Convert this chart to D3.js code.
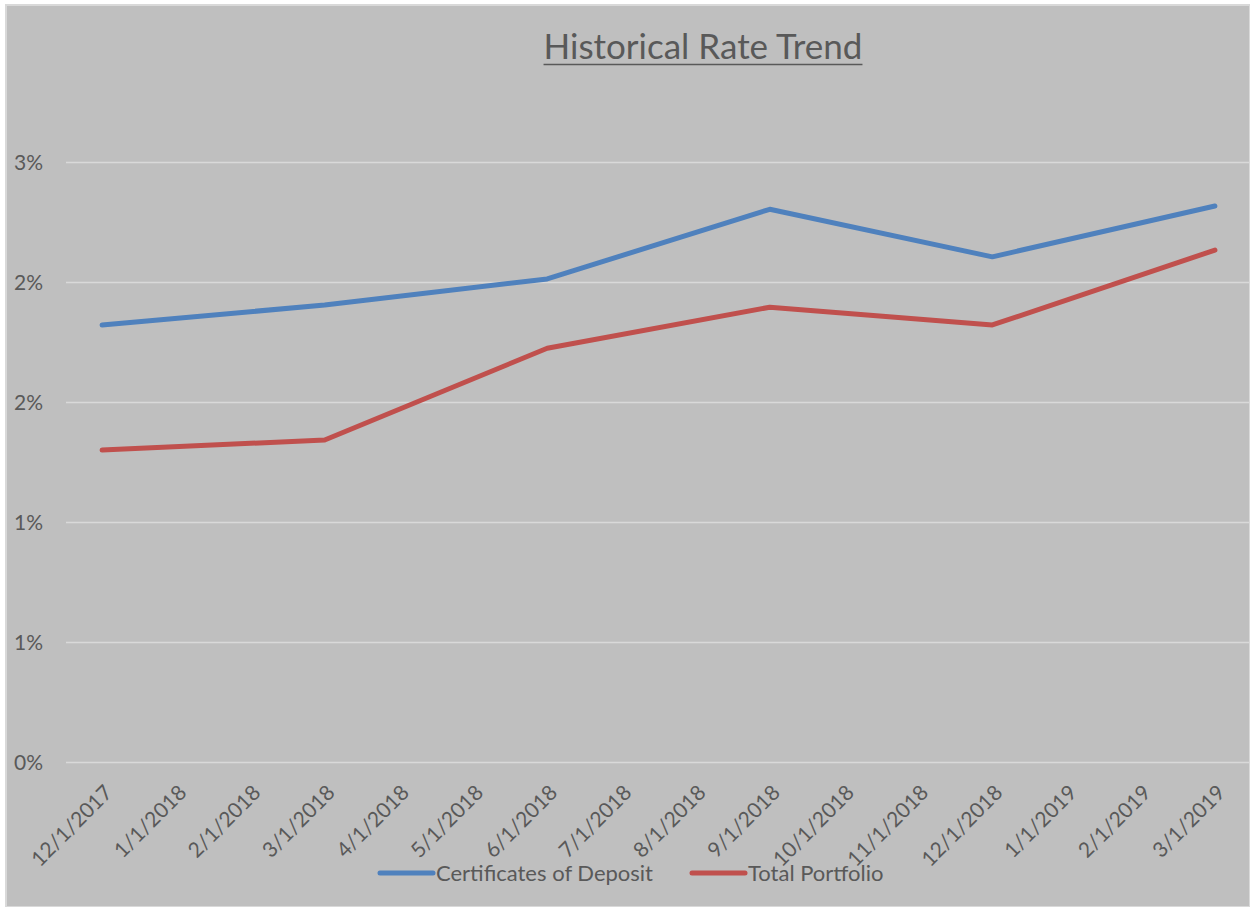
<!DOCTYPE html>
<html><head><meta charset="utf-8">
<script src="https://cdn.jsdelivr.net/npm/d3@7"></script>
<style>
html,body{margin:0;padding:0;background:#fff;}
svg{display:block;}
text{font-family:Lato, "Liberation Sans", sans-serif;}
</style></head>
<body>
<script>
const categories = ["12/1/2017","1/1/2018","2/1/2018","3/1/2018","4/1/2018","5/1/2018","6/1/2018","7/1/2018","8/1/2018","9/1/2018","10/1/2018","11/1/2018","12/1/2018","1/1/2019","2/1/2019","3/1/2019"];
const seriesNames = ["Certificates of Deposit","Total Portfolio"];
const cdDates = ["12/1/2017","3/1/2018","6/1/2018","9/1/2018","12/1/2018","3/1/2019"];
const cdValues = [1.823, 1.906, 2.015, 2.305, 2.107, 2.319];
const tpValues = [1.302, 1.344, 1.726, 1.897, 1.823, 2.135];
const yTicks = [0, 0.5, 1.0, 1.5, 2.0, 2.5];
const yTickLabels = ["0%","1%","1%","2%","2%","3%"];
const colors = ["#4F81BD","#C0504D"];

const W = 1250, H = 907;
const svg = d3.select("body").append("svg").attr("width", W).attr("height", H);
svg.append("rect").attr("x",6).attr("y",5).attr("width",W-6).attr("height",H-5).attr("fill","#BFBFBF").attr("stroke","#D9D9D9").attr("stroke-width",2);

const x = d3.scalePoint().domain(categories).range([65, 1252]).padding(0.5);
const y = d3.scaleLinear().domain([0, 2.5]).range([762.5, 162.5]);

// gridlines
svg.append("g").selectAll("line").data(yTicks).join("line")
  .attr("x1",66).attr("x2",1250)
  .attr("y1",d=>y(d)).attr("y2",d=>y(d))
  .attr("stroke","#D9D9D9").attr("stroke-width",1.5);

// y axis labels
const yAxis = d3.axisLeft(y).tickValues(yTicks).tickFormat((d,i)=>yTickLabels[i]).tickSize(0).tickPadding(0);
const yg = svg.append("g").attr("transform","translate(43,0)").call(yAxis);
yg.select(".domain").remove();
yg.selectAll("text").attr("fill","#595959").attr("font-size",21).attr("dy","0.35em");

// x axis labels
const xAxis = d3.axisBottom(x).tickSize(0).tickPadding(0);
const xg = svg.append("g").attr("transform","translate(0,770)").call(xAxis);
xg.select(".domain").remove();
xg.selectAll("text").attr("fill","#595959").attr("font-size",21)
  .attr("text-anchor","end").attr("dy",0).attr("y",0)
  .attr("transform","translate(11,24) rotate(-45)");

// lines
const line = d3.line().x(d=>x(d[0])).y(d=>y(d[1]));
[cdValues, tpValues].forEach((vals,i)=>{
  svg.append("path").datum(cdDates.map((c,j)=>[c, vals[j]]))
    .attr("d", line).attr("fill","none").attr("stroke",colors[i])
    .attr("stroke-width",5).attr("stroke-linecap","round").attr("stroke-linejoin","round");
});

// title
const title = svg.append("text").attr("x",703).attr("y",59).attr("text-anchor","middle")
  .attr("font-size",35).attr("fill","#595959").text("Historical Rate Trend");
const bb = title.node().getBBox();
svg.append("line").attr("x1",bb.x).attr("x2",bb.x+bb.width).attr("y1",64.5).attr("y2",64.5)
  .attr("stroke","#595959").attr("stroke-width",1.5);

// legend
const legendX = [378, 690];
seriesNames.forEach((n,i)=>{
  const g = svg.append("g").attr("transform",`translate(${legendX[i]},873)`);
  g.append("line").attr("x1",2).attr("x2",55).attr("y1",0).attr("y2",0)
    .attr("stroke",colors[i]).attr("stroke-width",5).attr("stroke-linecap","round");
  g.append("text").attr("x",58).attr("y",0).attr("dy","0.35em").attr("font-size",22)
    .attr("fill","#595959").text(n);
});
</script>
</body></html>
